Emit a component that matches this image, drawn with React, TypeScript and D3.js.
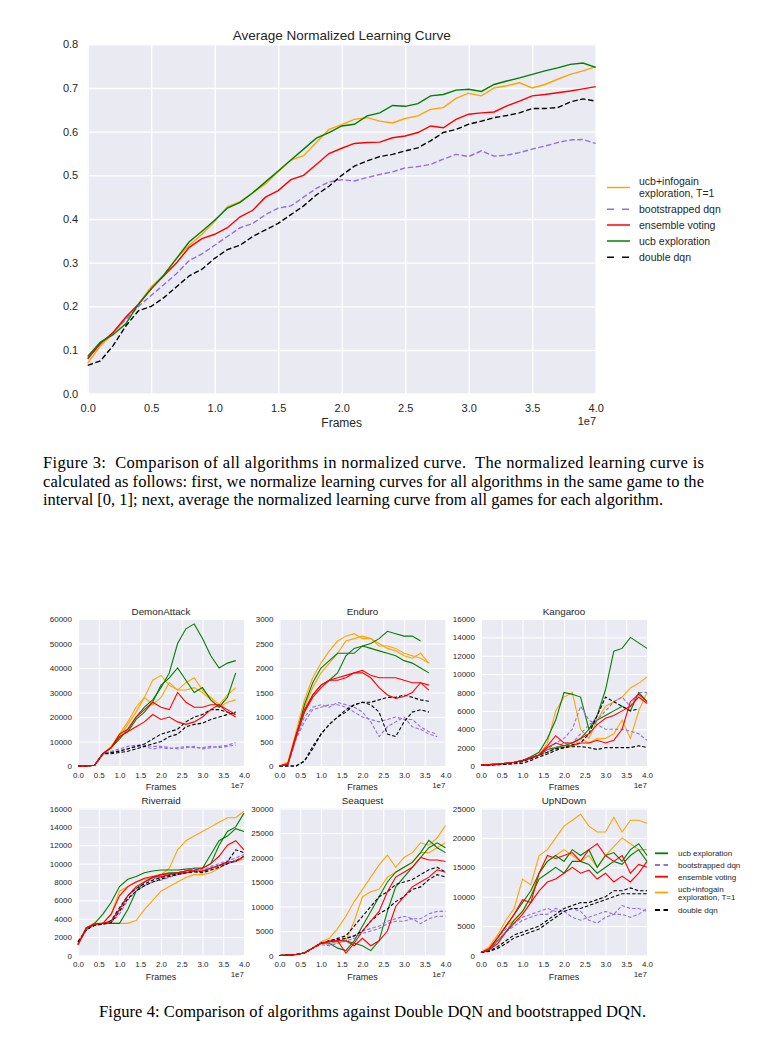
import React, { useEffect, useRef } from 'react';
import * as d3 from 'd3';

// x positions, in units of 1e7 frames
const topFrames = [0, 0.1, 0.2, 0.3, 0.4, 0.5, 0.6, 0.7, 0.8, 0.9, 1, 1.1, 1.2, 1.3, 1.4, 1.5, 1.6, 1.7, 1.8, 1.9, 2,
  2.1, 2.2, 2.3, 2.4, 2.5, 2.6, 2.7, 2.8, 2.9, 3, 3.1, 3.2, 3.3, 3.4, 3.5, 3.6, 3.7, 3.8, 3.9, 4];
const gridFrames = [0, 0.2, 0.4, 0.6, 0.8, 1, 1.2, 1.4, 1.6, 1.8, 2, 2.2, 2.4, 2.6, 2.8, 3, 3.2, 3.4, 3.6, 3.8, 4];
const frameTicks = [0, 0.5, 1, 1.5, 2, 2.5, 3, 3.5, 4];

// Figure 3: average normalized learning curve
const infogainTop = [0.07, 0.11, 0.138, 0.175, 0.205, 0.245, 0.272, 0.31, 0.34, 0.365, 0.395, 0.428, 0.44, 0.46, 0.48, 0.508, 0.535, 0.545, 0.575, 0.605, 0.616,
  0.628, 0.632, 0.624, 0.62, 0.63, 0.636, 0.651, 0.655, 0.676, 0.688, 0.682, 0.7, 0.705, 0.712, 0.7, 0.708, 0.72, 0.731, 0.739, 0.749];
const bootTop = [0.08, 0.115, 0.14, 0.17, 0.2, 0.225, 0.25, 0.275, 0.305, 0.32, 0.34, 0.36, 0.38, 0.39, 0.41, 0.425, 0.43, 0.45, 0.47, 0.485, 0.49,
  0.487, 0.495, 0.502, 0.508, 0.517, 0.52, 0.525, 0.537, 0.548, 0.543, 0.556, 0.544, 0.546, 0.552, 0.56, 0.567, 0.575, 0.581, 0.582, 0.573];
const ensembleTop = [0.08, 0.115, 0.14, 0.175, 0.205, 0.24, 0.27, 0.3, 0.335, 0.355, 0.365, 0.38, 0.405, 0.42, 0.45, 0.465, 0.49, 0.5, 0.525, 0.55, 0.562,
  0.573, 0.575, 0.576, 0.586, 0.59, 0.598, 0.613, 0.609, 0.628, 0.64, 0.643, 0.645, 0.659, 0.67, 0.682, 0.685, 0.689, 0.693, 0.698, 0.703];
const ucbTop = [0.085, 0.118, 0.135, 0.16, 0.205, 0.24, 0.272, 0.31, 0.348, 0.372, 0.397, 0.425, 0.438, 0.46, 0.485, 0.51, 0.535, 0.56, 0.585, 0.598, 0.613,
  0.617, 0.636, 0.643, 0.66, 0.658, 0.664, 0.682, 0.685, 0.695, 0.697, 0.692, 0.708, 0.716, 0.723, 0.731, 0.739, 0.746, 0.754, 0.757, 0.747];
const doubleTop = [0.065, 0.075, 0.11, 0.155, 0.19, 0.2, 0.22, 0.245, 0.27, 0.285, 0.31, 0.33, 0.34, 0.36, 0.375, 0.39, 0.41, 0.43, 0.455, 0.475, 0.5,
  0.521, 0.533, 0.543, 0.548, 0.556, 0.563, 0.579, 0.598, 0.605, 0.617, 0.624, 0.632, 0.637, 0.643, 0.653, 0.653, 0.655, 0.668, 0.675, 0.67];

// Figure 4: per game runs on gridFrames (thousands, except Enduro)
const demonInfogain = [
  [0, 0, 0.3, 5, 8, 13, 18, 24, 28, 35, 37, 33, 31, 34, 36, 31, 28, 25, 29, 32],
  [0, 0, 0.3, 5, 7.5, 12, 17, 22, 28, 25, 28, 34, 31, 31, 32, 30, 27, 24, 26, 27]];
const demonUcb = [
  [0, 0, 0.3, 5, 7.5, 11, 15, 20, 24, 27, 32, 38, 50, 56, 58, 52, 45, 40, 42, 43],
  [0, 0, 0.3, 5, 7.5, 12, 14, 19, 22, 26, 33, 36, 40, 35, 30, 32, 27, 24, 28, 38]];
const demonBoot = [
  [0, 0, 0.3, 5, 6, 7, 8, 8.5, 8.5, 8, 8, 7.5, 7, 7.5, 8, 7, 7.5, 8, 8.5, 9.5],
  [0, 0, 0.3, 5, 5.5, 6.5, 7, 8, 8, 7, 7.5, 7, 7.5, 8, 7.5, 7.5, 8, 7.5, 8, 8.5]];
const demonDouble = [
  [0, 0, 0.3, 5, 5.5, 6, 7, 8, 9, 11, 13, 14, 15, 18, 20, 21, 23, 23, 22, 21],
  [0, 0, 0.3, 5, 5, 5.5, 6, 7, 8, 9, 10, 12, 13, 16, 17, 17.5, 19, 20, 21, 22]];
const demonEnsemble = [
  [0, 0, 0.3, 5, 7.5, 13, 15, 20, 23, 26, 24, 23, 30, 26, 24, 24, 25, 25, 23, 21],
  [0, 0, 0.3, 5, 7.5, 12, 14, 16, 18, 21, 19, 20, 18, 17, 18, 20, 23, 25, 22, 20]];

const enduroInfogain = [
  [0, 80, 700, 1350, 1800, 2100, 2350, 2550, 2650, 2700, 2600, 2600, 2500, 2400, 2350, 2250, 2200, 2300, 2100],
  [0, 50, 600, 1200, 1600, 1900, 2100, 2300, 2550, 2600, 2650, 2600, 2450, 2450, 2400, 2300, 2250, 2200, 2100]];
const enduroUcb = [
  [0, 30, 600, 1250, 1700, 2000, 2150, 2300, 2300, 2300, 2450, 2500, 2600, 2750, 2700, 2650, 2650, 2550],
  [0, 30, 600, 1100, 1450, 1650, 1750, 1900, 2250, 2400, 2450, 2400, 2350, 2300, 2250, 2150, 2100, 2000, 1900]];
const enduroBoot = [
  [0, 30, 550, 1000, 1200, 1250, 1200, 1300, 1250, 1200, 1100, 900, 600, 800, 900, 1000, 800, 750, 650, 600],
  [0, 30, 550, 900, 1150, 1200, 1250, 1250, 1200, 1100, 1000, 950, 900, 950, 1000, 950, 950, 800, 700, 650]];
const enduroDouble = [
  [0, 0, 0, 100, 400, 650, 850, 1000, 1100, 1250, 1300, 1300, 1350, 1400, 1400, 1450, 1400, 1350, 1320],
  [0, 0, 0, 100, 350, 650, 850, 1000, 1150, 1250, 1300, 1250, 1100, 650, 600, 900, 1100, 1150, 1100]];
const enduroEnsemble = [
  [0, 50, 650, 1150, 1450, 1650, 1750, 1800, 1850, 1900, 1950, 1850, 1800, 1800, 1800, 1750, 1700, 1700, 1650],
  [0, 30, 600, 1100, 1400, 1600, 1750, 1750, 1800, 1900, 1900, 1800, 1600, 1450, 1380, 1420, 1500, 1700, 1550]];

const kangInfogain = [
  [0.1, 0.15, 0.2, 0.3, 0.4, 0.6, 0.9, 1.2, 2.5, 6, 7.5, 8, 4, 3, 5, 6.5, 7, 7.5, 8.5, 9, 9.7],
  [0.1, 0.15, 0.2, 0.3, 0.4, 0.6, 0.9, 1.2, 1.5, 2, 2, 2.2, 3, 2.5, 3, 3, 3.5, 5, 3, 6, 8]];
const kangUcb = [
  [0.1, 0.15, 0.2, 0.3, 0.4, 0.6, 1, 1.5, 3, 5, 8, 7.8, 7.5, 4, 5.5, 8.3, 12.5, 12.8, 14, 13.4, 12.8],
  [0.1, 0.15, 0.2, 0.3, 0.4, 0.6, 0.8, 1.2, 1.8, 2, 2.2, 2.5, 3, 4, 5, 5.5, 6, 6.5, 6, 8, 7]];
const kangBoot = [
  [0.1, 0.15, 0.2, 0.3, 0.4, 0.6, 0.9, 1.2, 1.8, 2.5, 3, 4, 6.5, 5, 4.5, 4, 4, 4, 3.8, 3.5, 2.8],
  [0.1, 0.15, 0.2, 0.3, 0.4, 0.6, 0.9, 1.2, 1.5, 2, 2.5, 2.5, 3.5, 4.5, 5, 6, 7, 7.5, 6.5, 8, 8]];
const kangDouble = [
  [0.1, 0.1, 0.15, 0.2, 0.25, 0.3, 0.6, 1, 1.3, 1.7, 2, 2.1, 2.1, 2, 1.8, 2, 2, 2, 2, 2.2, 2],
  [0.1, 0.1, 0.15, 0.2, 0.3, 0.5, 0.8, 1.2, 1.5, 1.9, 2, 2.3, 2.5, 3.5, 5.5, 7.5, 7, 6.5, 6, 6.2]];
const kangEnsemble = [
  [0.1, 0.15, 0.2, 0.3, 0.4, 0.6, 0.9, 1.2, 2.2, 3.3, 2.5, 2.5, 3, 3.5, 4.5, 5.2, 5.5, 6, 6.5, 7.5, 6.8],
  [0.1, 0.15, 0.2, 0.3, 0.4, 0.6, 0.9, 1.2, 2, 2.5, 2.2, 2.2, 2.5, 2.5, 2.8, 2.5, 2.8, 4, 7, 7.8, 7]];

const riverInfogain = [
  [1.2, 3, 3.5, 3.5, 4.5, 7, 7.5, 8, 8.3, 8.5, 8.8, 9.5, 11.5, 12.5, 13, 13.5, 14, 14.5, 15, 15, 15.7],
  [1.2, 3, 3.5, 3.5, 3.5, 3.5, 3.5, 3.8, 5, 6, 7, 7.5, 8, 8.5, 8.8, 8.8, 9, 9.5, 10, 10.3, 10.5]];
const riverUcb = [
  [1.2, 3, 3.5, 4.5, 5.8, 7.5, 8.3, 8.6, 9, 9.2, 9.3, 9.3, 9.3, 9.4, 9.5, 9.5, 10, 12, 13.5, 14, 15.5],
  [1.2, 2.8, 3.4, 3.5, 3.5, 3.5, 5, 7, 8, 8.5, 8.8, 9, 9, 9.2, 9.5, 9.5, 11, 12.5, 13, 13.8, 13.5]];
const riverBoot = [
  [1.2, 3, 3.4, 3.5, 3.8, 5, 6.5, 7.3, 8, 8.3, 8.5, 8.8, 9, 9.3, 9.5, 9.3, 9.7, 10, 10.3, 10.6, 11],
  [1.2, 3, 3.4, 3.5, 3.6, 4.5, 6, 7, 7.6, 8, 8.2, 8.5, 8.8, 9, 9.2, 9.2, 9.5, 9.8, 10, 10.4, 10.6]];
const riverDouble = [
  [1.5, 2.8, 3.3, 3.4, 3.8, 5.2, 6.5, 7.3, 7.8, 8.2, 8.5, 8.7, 8.9, 9, 9.2, 9.1, 9.5, 9.8, 10.2, 11.5, 11.2],
  [1.5, 2.8, 3.3, 3.4, 3.6, 4.8, 6.2, 7, 7.6, 8, 8.3, 8.6, 8.8, 9, 9.1, 9, 9.3, 9.6, 10, 10.3, 10.8]];
const riverEnsemble = [
  [1.2, 3, 3.4, 3.5, 4.5, 6.5, 7.5, 8, 8.4, 8.6, 8.8, 8.9, 9, 9.2, 9.3, 9.5, 10, 10.8, 12, 12.5, 11.5],
  [1.2, 3, 3.4, 3.5, 3.7, 5, 6.5, 7.5, 8, 8.5, 8.6, 8.8, 9, 9, 9.2, 9.2, 9.5, 9.8, 10.2, 10.2, 10.8]];

const seaInfogain = [
  [0, 0.1, 0.2, 0.5, 1.5, 2.8, 3.5, 5.5, 8, 11, 13.5, 16, 18.5, 20.5, 18, 20, 21, 23, 22.5, 24, 26.5],
  [0, 0.1, 0.2, 0.5, 1.5, 2.5, 2.8, 2.5, 3, 7, 12, 13, 13.5, 16, 17, 18, 19, 21, 21, 22, 23]];
const seaUcb = [
  [0, 0.1, 0.2, 0.5, 1.5, 2.5, 2.5, 1.5, 1, 3, 6, 9, 12, 15, 17, 18, 19, 21, 23.5, 22, 21],
  [0, 0.1, 0.2, 0.5, 1.5, 2.5, 2.8, 3, 3, 2.5, 2, 1, 3, 9, 14, 16, 18, 20, 22, 23, 22]];
const seaBoot = [
  [0, 0.1, 0.2, 0.5, 1.5, 2.5, 2.3, 3, 3.5, 4, 5, 5.5, 6, 7, 7.5, 8, 7.5, 7.5, 8.5, 9, 9],
  [0, 0.1, 0.2, 0.5, 1.5, 2.2, 2, 2.5, 3, 3.5, 4.5, 5, 5.5, 6.5, 7, 7, 7.5, 6.5, 7.5, 8, 8]];
const seaDouble = [
  [0, 0.1, 0.2, 0.5, 1.5, 2.5, 3, 3.5, 4, 6, 8, 10, 12, 13, 14.5, 15, 15.5, 16.5, 17.5, 18, 17],
  [0, 0.1, 0.2, 0.5, 1.5, 2.5, 3, 3.2, 3.5, 4, 5, 7, 8.5, 9.5, 11, 12, 13.5, 14, 15.5, 16.5, 16]];
const seaEnsemble = [
  [0, 0.1, 0.2, 0.5, 1.5, 2.5, 3, 3, 3, 2, 3.5, 2, 3, 5, 10, 12, 14, 15, 16, 17.5, 17],
  [0, 0.1, 0.2, 0.5, 1.5, 2.5, 2.8, 3, 0.5, 2.5, 5, 7, 9, 13, 16, 17, 18, 20, 19.5, 19.5, 19.2]];

const upInfogain = [
  [0.5, 1.5, 3.5, 6, 8, 13, 12, 17, 18, 20, 22, 23, 24, 22, 21, 21, 23.5, 21, 23, 23, 22.5],
  [0.5, 1.2, 3, 5, 6, 7.5, 10, 14, 16, 17, 18, 17, 16, 17, 15, 17, 18.5, 20, 19, 18, 18]];
const upUcb = [
  [0.5, 1, 3, 5, 7, 9, 11, 14, 16, 17, 16, 18, 17, 18, 15, 17, 17.5, 16, 18, 19, 17],
  [0.5, 1, 2.5, 4, 6, 7.5, 10, 13, 14, 15, 14, 16, 16, 15.5, 14, 15, 16, 15.5, 17, 18, 16]];
const upBoot = [
  [0.5, 1, 3, 4.5, 5.5, 6.5, 7, 7.5, 8, 7.5, 7.5, 6.5, 6, 6.5, 7, 7.5, 7, 8.5, 8, 8, 7.5],
  [0.5, 1, 2.5, 4, 5, 6, 6.5, 7, 7, 8, 7.5, 8, 7.5, 6, 5.5, 6.5, 7, 7, 6.5, 7, 8]];
const upDouble = [
  [0.5, 0.8, 1.5, 2.5, 3.5, 4, 4.5, 5, 6, 7, 8, 8.5, 9, 9, 9.5, 10, 11, 11, 11.5, 11, 11],
  [0.5, 0.7, 1.2, 2, 3, 3.5, 4, 4.5, 5.5, 6.5, 7.5, 8, 8, 8.5, 9, 9.5, 10, 10.5, 10.5, 10.5, 10.5]];
const upEnsemble = [
  [0.5, 1.2, 3, 5, 7, 9.5, 9, 14, 17, 16.5, 17, 17.5, 16, 18, 19, 17, 16, 17, 14, 15.5, 15],
  [0.5, 1, 2, 4, 5.5, 7, 9, 11, 12.5, 13, 14, 15, 14, 14.5, 13, 14, 12.5, 13.5, 12.5, 14, 16]];

const FONT = '"Liberation Sans", Arial, sans-serif';
const SERIF = '"Liberation Serif", "Times New Roman", serif';
const BG = '#EAEAF2';
const TXT = '#262626';

const ALGO: Record<string, { color: string; dashed: boolean }> = {
  infogain: { color: '#FFA500', dashed: false },
  boot: { color: '#9370DB', dashed: true },
  ensemble: { color: '#FF0000', dashed: false },
  ucb: { color: '#008000', dashed: false },
  double: { color: '#000000', dashed: true },
};

const panels = [
  { title: 'DemonAttack', col: 0, row: 0, ymax: 60, ticks: 6, unit: 1000,
    runs: { infogain: demonInfogain, ucb: demonUcb, boot: demonBoot, double: demonDouble, ensemble: demonEnsemble } },
  { title: 'Enduro', col: 1, row: 0, ymax: 3000, ticks: 6, unit: 1,
    runs: { infogain: enduroInfogain, ucb: enduroUcb, boot: enduroBoot, double: enduroDouble, ensemble: enduroEnsemble } },
  { title: 'Kangaroo', col: 2, row: 0, ymax: 16, ticks: 8, unit: 1000,
    runs: { infogain: kangInfogain, ucb: kangUcb, boot: kangBoot, double: kangDouble, ensemble: kangEnsemble } },
  { title: 'Riverraid', col: 0, row: 1, ymax: 16, ticks: 8, unit: 1000,
    runs: { infogain: riverInfogain, ucb: riverUcb, boot: riverBoot, double: riverDouble, ensemble: riverEnsemble } },
  { title: 'Seaquest', col: 1, row: 1, ymax: 30, ticks: 6, unit: 1000,
    runs: { infogain: seaInfogain, ucb: seaUcb, boot: seaBoot, double: seaDouble, ensemble: seaEnsemble } },
  { title: 'UpNDown', col: 2, row: 1, ymax: 25, ticks: 5, unit: 1000,
    runs: { infogain: upInfogain, ucb: upUcb, boot: upBoot, double: upDouble, ensemble: upEnsemble } },
];
const drawOrder = ['infogain', 'ucb', 'boot', 'double', 'ensemble'];

const colX = [78, 279.5, 481];
const rowY = [619, 808.5];
const PW = 166, PH = 147;

function axes(g: any, x: any, y: any, yTicks: number[], fs: number, padX: number, padY: number, fmtY: any, gridW: number) {
  const [x0, x1] = x.range();
  const [yb, yt] = y.range();
  const gx = g.append('g').attr('transform', `translate(0,${yb})`)
    .call(d3.axisBottom(x).tickValues(frameTicks).tickSize(-(yb - yt)).tickPadding(padX).tickFormat(d3.format('.1f')));
  const gy = g.append('g').attr('transform', `translate(${x0},0)`)
    .call(d3.axisLeft(y).tickValues(yTicks).tickSize(-(x1 - x0)).tickPadding(padY).tickFormat(fmtY));
  [gx, gy].forEach(a => {
    a.select('.domain').remove();
    a.attr('font-family', FONT).attr('font-size', fs);
    a.selectAll('line').attr('stroke', '#fff').attr('stroke-width', gridW);
    a.selectAll('text').attr('fill', TXT);
  });
}

function drawTop(svg: any) {
  const x = d3.scaleLinear().domain([0, 4]).range([87.7, 595.7]);
  const y = d3.scaleLinear().domain([0, 0.8]).range([393.7, 44.3]);
  const g = svg.append('g');
  g.append('rect').attr('x', 87.7).attr('y', 44.3).attr('width', 508).attr('height', 349.4).attr('fill', BG);
  axes(g, x, y, y.ticks(8), 11, 10.5, 9.5, d3.format('.1f'), 1.3);

  const line = d3.line<number>().x((_, i) => x(topFrames[i])).y(d => y(d));
  const series: [string, number[]][] = [
    ['infogain', infogainTop], ['boot', bootTop], ['ensemble', ensembleTop], ['ucb', ucbTop], ['double', doubleTop]];
  series.forEach(([k, vals]) => {
    g.append('path').attr('d', line(vals)).attr('fill', 'none')
      .attr('stroke', ALGO[k].color).attr('stroke-width', 1.4)
      .attr('stroke-dasharray', ALGO[k].dashed ? '5.5,2.5' : null);
  });

  g.append('text').attr('x', 341.7).attr('y', 39.5).attr('text-anchor', 'middle')
    .attr('font-family', FONT).attr('font-size', 13.5).attr('fill', TXT).text('Average Normalized Learning Curve');
  g.append('text').attr('x', 341.7).attr('y', 426.5).attr('text-anchor', 'middle')
    .attr('font-family', FONT).attr('font-size', 12).attr('fill', TXT).text('Frames');
  g.append('text').attr('x', 596).attr('y', 425).attr('text-anchor', 'end')
    .attr('font-family', FONT).attr('font-size', 11).attr('fill', TXT).text('1e7');

  const legend: [string, number, string[], number[]][] = [
    ['infogain', 187.5, ['ucb+infogain', 'exploration, T=1'], [181.3, 193.3]],
    ['boot', 209.3, ['bootstrapped dqn'], [209.3]],
    ['ensemble', 225, ['ensemble voting'], [225]],
    ['ucb', 241, ['ucb exploration'], [241]],
    ['double', 257.3, ['double dqn'], [257.3]],
  ];
  legend.forEach(([k, ly, labels, ty]) => {
    g.append('line').attr('x1', 607).attr('x2', 630).attr('y1', ly).attr('y2', ly)
      .attr('stroke', ALGO[k].color).attr('stroke-width', 1.5)
      .attr('stroke-dasharray', ALGO[k].dashed ? '7,8' : null);
    labels.forEach((t, i) => g.append('text').attr('x', 639).attr('y', ty[i]).attr('dy', '0.35em')
      .attr('font-family', FONT).attr('font-size', 10.5).attr('fill', TXT).text(t));
  });
}

function drawPanel(svg: any, p: any) {
  const left = colX[p.col], top = rowY[p.row];
  const x = d3.scaleLinear().domain([0, 4]).range([left, left + PW]);
  const y = d3.scaleLinear().domain([0, p.ymax]).range([top + PH, top]);
  const g = svg.append('g');
  g.append('rect').attr('x', left).attr('y', top).attr('width', PW).attr('height', PH).attr('fill', BG);
  axes(g, x, y, y.ticks(p.ticks), 8, 6.2, 6, (d: number) => d3.format('d')(Math.round(d * p.unit)), 1);

  const line = d3.line<number>().x((_, i) => x(gridFrames[i])).y(d => y(d));
  drawOrder.forEach(k => {
    p.runs[k].forEach((run: number[]) => {
      g.append('path').attr('d', line(run)).attr('fill', 'none')
        .attr('stroke', ALGO[k].color).attr('stroke-width', 1.1)
        .attr('stroke-dasharray', ALGO[k].dashed ? '3.5,2' : null);
    });
  });

  const cx = left + PW / 2;
  g.append('text').attr('x', cx).attr('y', p.row === 0 ? 615 : 804.3).attr('text-anchor', 'middle')
    .attr('font-family', FONT).attr('font-size', 9.8).attr('fill', TXT).text(p.title);
  g.append('text').attr('x', cx).attr('y', p.row === 0 ? 790 : 980).attr('text-anchor', 'middle')
    .attr('font-family', FONT).attr('font-size', 9).attr('fill', TXT).text('Frames');
  g.append('text').attr('x', left + PW).attr('y', p.row === 0 ? 787.5 : 977).attr('text-anchor', 'end')
    .attr('font-family', FONT).attr('font-size', 8).attr('fill', TXT).text('1e7');
}

function drawSmallLegend(svg: any) {
  const g = svg.append('g');
  const items: [string, number, string[], number[]][] = [
    ['ucb', 853.3, ['ucb exploration'], [853.3]],
    ['boot', 865, ['bootstrapped dqn'], [865]],
    ['ensemble', 876.7, ['ensemble voting'], [876.7]],
    ['infogain', 892.5, ['ucb+infogain', 'exploration, T=1'], [888.8, 897]],
    ['double', 910, ['double dqn'], [910]],
  ];
  items.forEach(([k, ly, labels, ty]) => {
    g.append('line').attr('x1', 655).attr('x2', 668).attr('y1', ly).attr('y2', ly)
      .attr('stroke', ALGO[k].color).attr('stroke-width', 1.8)
      .attr('stroke-dasharray', ALGO[k].dashed ? '5,3.5' : null);
    labels.forEach((t, i) => g.append('text').attr('x', 678).attr('y', ty[i]).attr('dy', '0.35em')
      .attr('font-family', FONT).attr('font-size', 8).attr('fill', TXT).text(t));
  });
}

function drawCaptions(svg: any) {
  const g = svg.append('g').attr('font-family', SERIF).attr('font-size', 16.5).attr('fill', '#000');
  const lines: [string, number, number, number | null][] = [
    ['Figure 3:  Comparison of all algorithms in normalized curve.  The normalized learning curve is', 43, 468, 661],
    ['calculated as follows: first, we normalize learning curves for all algorithms in the same game to the', 43, 486.5, 661],
    ['interval [0, 1]; next, average the normalized learning curve from all games for each algorithm.', 43, 505, 620],
    ['Figure 4: Comparison of algorithms against Double DQN and bootstrapped DQN.', 99, 1017, 547],
  ];
  lines.forEach(([t, x, y, len]) => {
    const el = g.append('text').attr('x', x).attr('y', y).attr('xml:space', 'preserve').text(t);
    if (len) el.attr('textLength', len).attr('lengthAdjust', 'spacing');
  });
}

export default function App() {
  const ref = useRef<SVGSVGElement>(null);
  useEffect(() => {
    if (!ref.current) return;
    const svg = d3.select(ref.current);
    svg.selectAll('*').remove();
    drawTop(svg);
    panels.forEach(p => drawPanel(svg, p));
    drawSmallLegend(svg);
    drawCaptions(svg);
  }, []);
  return (
    <svg ref={ref} width={765} height={1044}
      style={{ position: 'absolute', left: 0, top: 0, background: '#fff' }} />
  );
}
